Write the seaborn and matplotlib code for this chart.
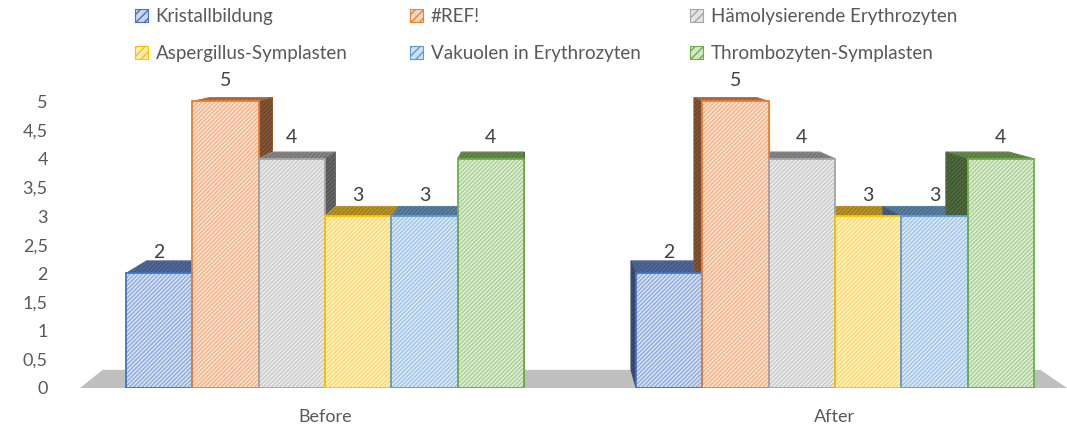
import numpy as np
import pandas as pd
import matplotlib
matplotlib.use("Agg")
import matplotlib.pyplot as plt
import matplotlib.colors as mcolors
from matplotlib.patches import Patch, Polygon, Rectangle
from matplotlib.ticker import FuncFormatter
import seaborn as sns

# data
groups = ["Before", "After"]
categories = ["Kristallbildung", "#REF!", "Hämolysierende Erythrozyten",
              "Aspergillus-Symplasten", "Vakuolen in Erythrozyten", "Thrombozyten-Symplasten"]
before_values = [2, 5, 4, 3, 3, 4]
after_values = [2, 5, 4, 3, 3, 4]
colors = ["#4472C4", "#ED7D31", "#A5A5A5", "#FFC000", "#5B9BD5", "#70AD47"]
y_ticks = [0, 0.5, 1, 1.5, 2, 2.5, 3, 3.5, 4, 4.5, 5]

df = pd.DataFrame({
    "group": np.repeat(groups, len(categories)),
    "category": categories * len(groups),
    "value": before_values + after_values,
})

sns.set_style("white")
plt.rcParams["font.family"] = ["Lato", "DejaVu Sans"]
plt.rcParams["hatch.linewidth"] = 1.0
text_color = "#595959"

W, H = 1067, 432
fig = plt.figure(figsize=(W / 100, H / 100), dpi=100)
ax = fig.add_axes([70 / W, (H - 388) / H, (W - 70) / W, (388 - 90) / H])

palette = dict(zip(categories, colors))
sns.barplot(data=df, x="group", y="value", hue="category", palette=palette,
            hue_order=categories, width=0.78, saturation=1, legend=False, ax=ax)

ax.set_xlim(-0.5, -0.5 + (W - 70) / 510)
ax.set_ylim(0, 5.2)
ax.set_yticks(y_ticks)
ax.yaxis.set_major_formatter(FuncFormatter(lambda v, p: f"{v:g}".replace(".", ",")))
for s in ax.spines.values():
    s.set_visible(False)
ax.tick_params(axis="both", length=0, colors=text_color, labelsize=13)
ax.tick_params(axis="y", pad=16)
ax.tick_params(axis="x", pad=15)
ax.set_xlabel("")
ax.set_ylabel("")
ax.patch.set_alpha(0)

# perspective helpers (vanishing point in display pixels)
fig.canvas.draw()
vx, vy = W / 2, H - 24
t = 0.05
to_disp = ax.transData.transform
to_data = ax.transData.inverted().transform


def back(pt):
    d = to_disp(pt)
    b = d + t * (np.array([vx, vy]) - d)
    return to_data(b)


def tint(c, f):
    r = np.array(mcolors.to_rgb(c))
    return tuple(1 - (1 - r) * f)


def shade(c, f, gray=0.35):
    r = np.array(mcolors.to_rgb(c))
    r = r * (1 - gray) + np.array([0.5, 0.5, 0.5]) * gray
    return tuple(r * f)


# floor
x0, x1 = ax.get_xlim()
fl = [(x0 + 10 / 510, 0), (x1, 0)]
floor = Polygon([fl[0], fl[1], back(fl[1]), back(fl[0])], closed=True,
                facecolor="#BFBFBF", edgecolor="none", zorder=0.5)
ax.add_patch(floor)

hatch = "////////"
for cont, col in zip(ax.containers, colors):
    for bar in cont:
        bx, bw, bh = bar.get_x(), bar.get_width(), bar.get_height()
        # hatched face, hatch colour is the edge colour, outline drawn separately
        bar.set_facecolor(tint(col, 0.2))
        bar.set_edgecolor(tint(col, 0.6))
        bar.set_hatch(hatch)
        bar.set_linewidth(0)
        bar.set_zorder(3)
        ax.add_patch(Rectangle((bx, 0), bw, bh, fill=False, edgecolor=col,
                               linewidth=1.3, zorder=3.5))
        # top face
        tl, tr = (bx, bh), (bx + bw, bh)
        top = Polygon([tl, tr, back(tr), back(tl)], closed=True,
                      facecolor=shade(col, 0.75), edgecolor=shade(col, 0.9), hatch=hatch,
                      linewidth=0.8, zorder=2)
        ax.add_patch(top)
        # side face toward the vanishing point
        cx_disp = to_disp((bx + bw / 2, 0))[0]
        sx = bx + bw if cx_disp < vx else bx
        side = Polygon([(sx, 0), (sx, bh), back((sx, bh)), back((sx, 0))], closed=True,
                       facecolor=shade(col, 0.55), edgecolor=shade(col, 0.7), hatch=hatch,
                       linewidth=0.8, zorder=2)
        ax.add_patch(side)
        ax.annotate(f"{bh:g}", (bx + bw / 2, bh), xytext=(0, 15), textcoords="offset points",
                    ha="center", va="center", fontsize=14, color="#404040",
                    annotation_clip=False, zorder=5)

# legend: three columns like the Excel layout
handles = [Patch(facecolor=tint(c, 0.3), edgecolor=c, hatch="////", linewidth=0.8)
           for c in colors]
col_x = [135, 410, 690]
for i, x in enumerate(col_x):
    fig.legend(handles=[handles[i], handles[i + 3]], labels=[categories[i], categories[i + 3]],
               loc="upper left", bbox_to_anchor=(x / W, 1 - 8 / H), frameon=False,
               borderpad=0, borderaxespad=0, handlelength=0.7, handleheight=0.7,
               handletextpad=0.4, labelspacing=1.05, fontsize=13.5, labelcolor=text_color)

fig.savefig("out.png", dpi=100)
